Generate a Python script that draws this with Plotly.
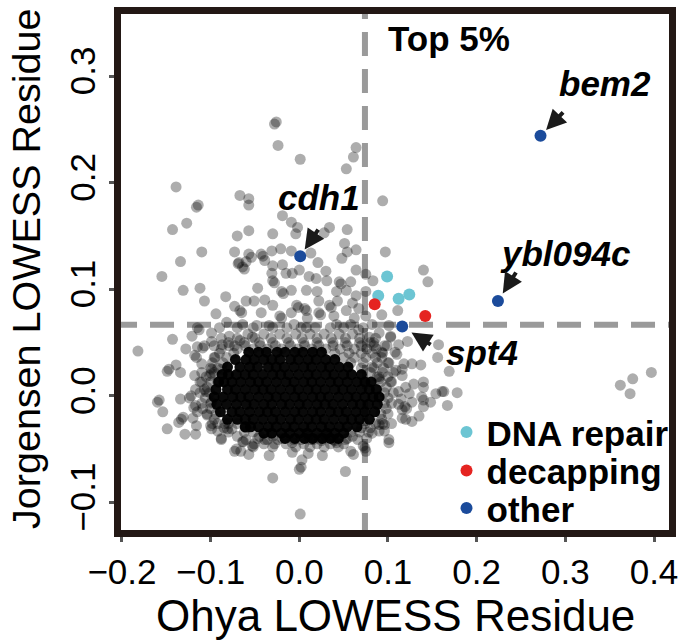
import plotly.graph_objects as go

# ---------------- data ----------------
x_range = [-0.2011, 0.4169]
y_range = [-0.1259, 0.3583]
x_ticks = [-0.2, -0.1, 0.0, 0.1, 0.2, 0.3, 0.4]
y_ticks = [-0.1, 0.0, 0.1, 0.2, 0.3]

# "Top 5%" thresholds
top5_x = 0.074
top5_y = 0.0667
vline_y = [-0.1324, 0.37]
hline_x = [-0.2101, 0.43]

# highlighted genes
dna_x = [0.099, 0.089, 0.112, 0.124]
dna_y = [0.112, 0.094, 0.091, 0.095]
dec_x = [0.085, 0.142]
dec_y = [0.086, 0.075]
other_names = ["bem2", "cdh1", "ybl094c", "spt4"]
other_x = [0.272, 0.001, 0.224, 0.116]
other_y = [0.244, 0.131, 0.089, 0.065]

# all other genes: individually readable scattered points
scatter_pts = [
    (-0.028, 0.255), (-0.026, 0.257), (-0.024, 0.235), (0.001, 0.222), (0.064, 0.233),
    (0.061, 0.224), (0.053, 0.213), (-0.139, 0.196), (-0.067, 0.188), (-0.057, 0.185),
    (-0.057, 0.179), (-0.116, 0.177), (-0.114, 0.179), (0.094, 0.183), (-0.019, 0.169),
    (-0.009, 0.163), (-0.002, 0.158), (-0.143, 0.156), (-0.127, 0.162), (-0.057, 0.155),
    (-0.070, 0.150), (-0.030, 0.152), (-0.004, 0.152), (0.028, 0.153), (0.034, 0.158),
    (0.054, 0.156), (0.051, 0.143), (-0.110, 0.135), (-0.073, 0.135), (-0.057, 0.133),
    (-0.043, 0.133), (-0.041, 0.131), (-0.031, 0.136), (-0.021, 0.138), (-0.009, 0.136),
    (0.013, 0.134), (0.064, 0.137), (0.054, 0.135), (0.097, 0.135), (-0.134, 0.126),
    (-0.068, 0.125), (-0.064, 0.121), (-0.062, 0.119), (-0.054, 0.130), (-0.039, 0.127),
    (-0.030, 0.122), (-0.019, 0.123), (0.021, 0.125), (0.048, 0.129), (0.064, 0.118),
    (-0.155, 0.112), (-0.131, 0.099), (-0.112, 0.101), (-0.107, 0.089), (-0.083, 0.093),
    (0.083, 0.108), (0.075, 0.114), (0.140, 0.118), (0.145, 0.107), (0.111, 0.080),
    (-0.069, 0.124), (-0.060, 0.126),
    (-0.031, 0.115), (-0.030, 0.108), (-0.028, 0.106), (-0.015, 0.115), (-0.008, 0.115),
    (0.000, 0.118), (0.011, 0.112), (0.019, 0.110), (0.030, 0.117), (0.031, 0.108),
    (0.045, 0.107), (0.047, 0.105), (0.058, 0.107),
    (-0.047, 0.101), (-0.020, 0.098), (-0.018, 0.096), (-0.009, 0.099), (0.008, 0.099),
    (0.020, 0.098), (0.042, 0.098), (0.053, 0.099), (0.064, 0.094), (0.075, 0.098),
    (-0.060, 0.089), (-0.051, 0.089), (-0.039, 0.090), (-0.030, 0.085), (-0.003, 0.085),
    (-0.001, 0.083), (0.006, 0.082), (0.008, 0.080), (0.022, 0.089), (0.034, 0.085),
    (0.036, 0.083), (0.043, 0.089), (0.060, 0.087), (0.067, 0.082),
    (-0.073, 0.084), (-0.067, 0.080), (-0.065, 0.078), (-0.043, 0.078), (-0.022, 0.075),
    (-0.020, 0.073), (-0.009, 0.078), (0.009, 0.073), (0.022, 0.078), (0.024, 0.076),
    (0.039, 0.075), (0.053, 0.080), (0.062, 0.073), (0.075, 0.075), (0.093, 0.076),
    (-0.082, 0.069), (-0.064, 0.067), (-0.090, 0.064), (-0.048, 0.066), (-0.034, 0.066),
    (-0.006, 0.067), (0.008, 0.064), (0.042, 0.067), (0.058, 0.067), (0.067, 0.062),
    (0.082, 0.067), (0.101, 0.066), (0.090, 0.059), (0.079, 0.055), (0.103, 0.055),
    (0.112, 0.048), (0.099, 0.047), (0.087, 0.044), (0.093, 0.036), (0.110, 0.039),
    (0.118, 0.030), (-0.079, 0.056), (-0.067, 0.052), (-0.053, 0.055), (-0.087, 0.048),
    (-0.094, 0.077), (-0.143, 0.053), (-0.182, 0.042), (-0.128, 0.044), (-0.149, 0.023),
    (-0.147, 0.025), (-0.139, 0.029), (-0.134, 0.022), (-0.160, -0.006), (-0.158, -0.004),
    (-0.154, -0.015), (-0.134, -0.003), (-0.133, -0.022), (-0.131, -0.020), (-0.120, -0.021),
    (-0.149, -0.031), (-0.129, -0.036), (-0.117, -0.036), (-0.073, -0.052), (-0.071, -0.050),
    (-0.063, -0.043), (-0.057, -0.055), (-0.052, -0.048), (-0.034, -0.056), (-0.008, -0.053),
    (0.010, -0.054), (0.003, -0.060), (0.000, -0.069), (0.002, -0.067), (0.026, -0.056),
    (0.058, -0.052), (0.052, -0.071), (-0.030, -0.077), (0.001, -0.111), (0.074, -0.049),
    (0.072, -0.047), (0.076, -0.040), (0.101, -0.044), (0.096, -0.033), (0.116, -0.021),
    (0.112, -0.008), (0.112, 0.004), (0.116, 0.025), (0.101, 0.031), (0.093, 0.041),
    (0.103, 0.056),
    (-0.115, 0.046), (-0.109, 0.045), (-0.107, 0.047), (-0.099, 0.051), (-0.118, 0.038),
    (-0.116, 0.036), (-0.110, 0.030), (-0.118, 0.019), (-0.101, 0.019), (-0.099, 0.021),
    (-0.117, 0.006), (-0.107, 0.006), (-0.105, 0.004), (-0.124, -0.002), (-0.122, 0.000),
    (-0.119, -0.011), (-0.117, -0.009), (-0.109, -0.012), (-0.136, -0.025), (-0.116, -0.028),
    (-0.100, -0.028), (-0.098, -0.026), (-0.088, -0.040), (-0.099, -0.031), (-0.066, -0.052),
    (-0.047, -0.040), (-0.115, -0.015), (-0.084, -0.026), (-0.081, -0.031), (-0.104, -0.018),
    (-0.092, 0.013), (-0.110, 0.013), (-0.099, -0.006), (-0.121, 0.056), (-0.099, 0.059),
    (-0.115, 0.064), (-0.113, 0.062), (-0.073, 0.047), (-0.096, 0.036), (-0.088, 0.025),
    (-0.099, 0.025),
    (-0.092, -0.033), (-0.088, -0.041), (-0.076, -0.031), (-0.064, -0.043), (-0.053, -0.047),
    (-0.051, -0.045), (-0.039, -0.041), (-0.028, -0.045), (-0.019, -0.040), (-0.008, -0.044),
    (0.002, -0.041), (0.013, -0.041), (0.025, -0.042), (0.023, -0.040), (0.042, -0.044),
    (0.040, -0.042), (0.054, -0.040), (0.061, -0.055), (0.082, -0.035), (0.120, -0.022),
    (0.135, -0.019), (0.140, -0.010), (0.127, -0.006), (0.116, -0.013), (0.104, -0.026),
    (0.090, -0.027),
    (0.122, 0.051), (0.157, 0.048), (0.156, 0.036), (0.169, 0.023), (0.127, 0.030),
    (0.137, 0.029), (0.108, 0.041), (0.109, 0.024), (0.116, 0.019), (0.140, 0.013),
    (0.129, 0.011), (0.120, 0.008), (0.124, 0.002), (0.138, -0.001), (0.140, -0.004),
    (0.154, 0.002), (0.163, 0.004), (0.178, 0.003), (0.167, -0.009), (0.148, -0.006),
    (0.121, -0.012), (0.119, -0.010), (0.127, -0.024), (0.096, -0.027), (0.090, -0.033),
    (0.101, -0.041), (0.084, 0.050), (0.082, 0.027), (0.090, 0.016), (0.088, 0.018),
    (0.103, 0.013), (0.115, -0.003), (0.075, -0.052),
    (0.362, 0.010), (0.376, 0.016), (0.397, 0.022), (0.373, 0.002), (0.140, 0.008),
    (0.161, 0.004),
]

# dense fringe around the core (overlapping, estimated)
fringe_rows = [
    (0.064, [-0.070, -0.052, -0.030, -0.014, 0.002, 0.018, 0.035, 0.050, 0.072]),
    (0.058, [-0.058, -0.040, -0.022, -0.004, 0.012, 0.028, 0.045, 0.060]),
    (0.054, [-0.088, -0.070, -0.050, -0.032, -0.014, 0.003, 0.020, 0.036, 0.052, 0.068, 0.086]),
    (0.050, [-0.080, -0.062, -0.045, -0.030, -0.012, 0.005, 0.020, 0.038, 0.052, 0.068, 0.080]),
    (0.047, [-0.096, -0.079, -0.061, -0.044, -0.027, -0.010, 0.006, 0.022, 0.038, 0.054, 0.070, 0.084, 0.096]),
    (0.044, [-0.088, -0.070, -0.052, -0.036, -0.020, -0.002, 0.014, 0.030, 0.046, 0.062, 0.076]),
    (0.040, [-0.090, -0.074, 0.040, 0.056, 0.070, 0.082, 0.094]),
    (0.036, [-0.095, -0.082, 0.050, 0.062, 0.075, 0.086]),
    (0.031, [-0.098, -0.086, 0.058, 0.072, 0.088, 0.100]),
    (0.026, [-0.100, -0.092, 0.070, 0.084, 0.095]),
    (0.022, [-0.110, -0.096, 0.080, 0.094, 0.106]),
    (0.018, [-0.105, 0.090, 0.100]),
    (0.013, [-0.112, -0.100, 0.092, 0.104]),
    (0.008, [-0.104, 0.098]),
    (0.003, [-0.112, -0.101, 0.096, 0.106]),
    (-0.002, [-0.106, 0.100]),
    (-0.007, [-0.110, -0.100, 0.096, 0.104]),
    (-0.012, [-0.100, 0.098]),
    (-0.017, [-0.104, -0.094, 0.092, 0.100]),
    (-0.022, [-0.096, 0.093]),
    (-0.026, [-0.092, -0.080, -0.070, 0.074, 0.086, 0.094]),
    (-0.030, [-0.085, -0.060, 0.070, 0.080]),
    (-0.034, [-0.080, -0.062, -0.052, 0.058, 0.068, 0.078]),
    (-0.038, [-0.070, -0.045, -0.030, 0.010, 0.030, 0.060]),
    (-0.041, [-0.060, -0.036, -0.024, -0.006, 0.016, 0.038, 0.052, 0.066]),
    (-0.045, [-0.040, -0.015, 0.005, 0.020, 0.035, 0.050]),
    (-0.048, [-0.030, -0.004, 0.012, 0.028, 0.044]),
]

# solid black core (thousands of overlapping genes, estimated)
core_rows = [
    (0.041, [-0.057, -0.046, -0.037, -0.025, -0.016, -0.005, 0.004, 0.015, 0.025]),
    (0.034, [-0.072, -0.060, -0.051, -0.040, -0.031, -0.022, -0.010, -0.001, 0.010, 0.019, 0.030, 0.040]),
    (0.027, [-0.081, -0.067, -0.056, -0.047, -0.035, -0.026, -0.017, -0.006, 0.005, 0.014, 0.025, 0.034, 0.045, 0.055]),
    (0.020, [-0.087, -0.080, -0.071, -0.061, -0.052, -0.041, -0.030, -0.021, -0.012, -0.001, 0.010, 0.019, 0.030, 0.039, 0.050, 0.059, 0.070]),
    (0.013, [-0.091, -0.085, -0.076, -0.066, -0.055, -0.046, -0.037, -0.026, -0.015, -0.006, 0.005, 0.014, 0.024, 0.035, 0.044, 0.054, 0.065, 0.074, 0.081]),
    (0.006, [-0.094, -0.081, -0.072, -0.061, -0.050, -0.041, -0.032, -0.021, -0.010, -0.001, 0.010, 0.019, 0.029, 0.040, 0.049, 0.059, 0.070, 0.079, 0.087]),
    (-0.001, [-0.096, -0.086, -0.075, -0.066, -0.057, -0.046, -0.035, -0.026, -0.016, -0.005, 0.004, 0.015, 0.024, 0.033, 0.044, 0.055, 0.064, 0.074, 0.083, 0.090]),
    (-0.008, [-0.093, -0.082, -0.071, -0.060, -0.051, -0.040, -0.031, -0.020, -0.011, 0.000, 0.009, 0.020, 0.029, 0.038, 0.049, 0.060, 0.069, 0.078, 0.088]),
    (-0.015, [-0.089, -0.076, -0.067, -0.056, -0.045, -0.036, -0.027, -0.016, -0.005, 0.004, 0.015, 0.024, 0.035, 0.044, 0.053, 0.064, 0.074, 0.085]),
    (-0.022, [-0.081, -0.070, -0.061, -0.052, -0.041, -0.030, -0.021, -0.010, -0.001, 0.010, 0.019, 0.028, 0.039, 0.050, 0.059, 0.068, 0.079]),
    (-0.029, [-0.061, -0.055, -0.046, -0.035, -0.026, -0.015, -0.006, 0.005, 0.014, 0.025, 0.034, 0.045, 0.054, 0.065]),
    (-0.035, [-0.040, -0.031, -0.020, -0.011, 0.000, 0.009, 0.020, 0.031, 0.040, 0.050]),
    (-0.040, [-0.016, -0.005, 0.006, 0.015, 0.026, 0.035, 0.044]),
]

# ---------------- build ----------------
FONT = "Liberation Sans, Arial, Helvetica, sans-serif"
FRAME = "#231815"

bg_x = [p[0] for p in scatter_pts]
bg_y = [p[1] for p in scatter_pts]
fr_x = [x for y, xs in fringe_rows for x in xs]
fr_y = [y for y, xs in fringe_rows for x in xs]
co_x = [x for y, xs in core_rows for x in xs]
co_y = [y for y, xs in core_rows for x in xs]

fig = go.Figure()

# threshold lines first (they sit beneath the points)
line_style = dict(color="#9a9a9a", width=6, dash="24px,13px")
fig.add_trace(go.Scatter(x=[top5_x, top5_x], y=vline_y, mode="lines", line=line_style,
                         showlegend=False, hoverinfo="skip"))
fig.add_trace(go.Scatter(x=hline_x, y=[top5_y, top5_y], mode="lines", line=line_style,
                         showlegend=False, hoverinfo="skip"))

fig.add_trace(go.Scatter(x=co_x, y=co_y, mode="markers", showlegend=False, hoverinfo="skip",
                         marker=dict(size=11, color="black", opacity=0.96, line=dict(width=0))))
fig.add_trace(go.Scatter(x=fr_x + bg_x, y=fr_y + bg_y, mode="markers", showlegend=False, hoverinfo="skip",
                         marker=dict(size=11, color="black", opacity=0.32, line=dict(width=0))))

fig.add_trace(go.Scatter(x=dna_x, y=dna_y, mode="markers", name="DNA repair", legend="legend",
                         marker=dict(size=12, color="#6CC5D3", line=dict(width=0))))
fig.add_trace(go.Scatter(x=dec_x, y=dec_y, mode="markers", name="decapping", legend="legend2",
                         marker=dict(size=12, color="#E52421", line=dict(width=0))))
fig.add_trace(go.Scatter(x=other_x, y=other_y, mode="markers", name="other", legend="legend3",
                         text=other_names, marker=dict(size=12, color="#1B4B9B", line=dict(width=0))))

lab_font = dict(family=FONT, size=35, color="black", weight="bold", style="italic")
ann = []
# gene labels
label_pos = {"bem2": (0.345, 0.2935), "cdh1": (0.0225, 0.186), "ybl094c": (0.300, 0.1333), "spt4": (0.2056, 0.0407)}
arrow_off = {"bem2": (24, -25, 8), "cdh1": (19, -28, 8), "ybl094c": (19, -30, 9), "spt4": (30, 19, 11)}
for name, gx, gy in zip(other_names, other_x, other_y):
    lx, ly = label_pos[name]
    ann.append(dict(x=lx, y=ly, xref="x", yref="y", text=name, showarrow=False,
                    xanchor="center", yanchor="middle", font=lab_font))
    ax, ay, so = arrow_off[name]
    ann.append(dict(x=gx, y=gy, xref="x", yref="y", text="", showarrow=True, ax=ax, ay=ay,
                    arrowhead=2, arrowsize=1, arrowwidth=4, arrowcolor="#1a1a1a", standoff=so))
ann.append(dict(x=0.1685, y=0.335, xref="x", yref="y", text="Top 5%", showarrow=False,
                xanchor="center", yanchor="middle",
                font=dict(family=FONT, size=35, color="black", weight="bold")))
# axis titles
ann.append(dict(x=0.5, y=-0.1660, xref="paper", yref="paper", text="Ohya LOWESS Residue",
                showarrow=False, xanchor="center", yanchor="middle",
                font=dict(family=FONT, size=44, color="black")))
ann.append(dict(x=-0.1745, y=0.5067, xref="paper", yref="paper", text="Jorgensen LOWESS Residue",
                showarrow=False, xanchor="center", yanchor="middle", textangle=-90,
                font=dict(family=FONT, size=39.5, color="black")))

axis_common = dict(showgrid=False, zeroline=False, showline=True, mirror=True, linewidth=7,
                   linecolor=FRAME, ticks="outside", ticklen=5, tickwidth=3, tickcolor="#555555",
                   tickfont=dict(family=FONT, size=35, color="black"), tickformat=".1f")

leg_common = dict(xanchor="left", yanchor="middle", bgcolor="rgba(0,0,0,0)", borderwidth=0,
                  font=dict(family=FONT, size=35, color="black", weight="bold"), itemwidth=30)

fig.update_layout(
    width=685, height=641,
    margin=dict(l=121, r=14, t=7, b=111),
    paper_bgcolor="white", plot_bgcolor="white",
    xaxis=dict(range=x_range, tickvals=x_ticks, **axis_common),
    yaxis=dict(range=y_range, tickvals=y_ticks, tickangle=-90, **axis_common),
    annotations=ann,
    legend=dict(x=0.5940, y=0.1893, **leg_common),
    legend2=dict(x=0.5940, y=0.1147, **leg_common),
    legend3=dict(x=0.5940, y=0.0421, **leg_common),
    hovermode=False,
)

# remove the default 8px page margin so the figure sits at the window's top-left corner
fig.write_html("out.html", config={"displayModeBar": False},
               post_script="document.body.style.margin='0';")
